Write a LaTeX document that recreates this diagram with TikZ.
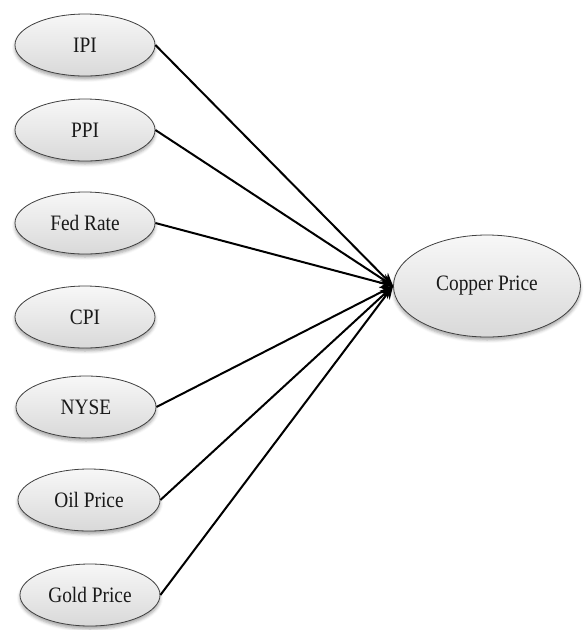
\documentclass[tikz,border=0pt]{standalone}
\usepackage{fontspec}
\setmainfont{Liberation Serif}
\usetikzlibrary{shapes.geometric,arrows.meta,shadows.blur}

% slightly condensed label text
\newcommand\narrowlbl[1]{\scalebox{0.88}[1]{#1}}

\tikzset{
  factor/.style={
    ellipse, draw=black!75, line width=0.8pt,
    top color=gray!6, bottom color=gray!30,
    blur shadow={shadow xshift=0pt, shadow yshift=-3pt, shadow blur radius=3pt, shadow opacity=35},
    minimum width=140pt, minimum height=62pt, inner sep=0pt,
    font=\fontsize{22}{24}\selectfont, text=black!90
  },
  target/.style={factor, minimum width=187pt, minimum height=102pt},
  link/.style={line width=2pt, -{Stealth[length=13pt,width=11pt]}}
}

\begin{document}
\begin{tikzpicture}[x=1pt, y=-1pt]
  \useasboundingbox (0,0) rectangle (585,630);

  % explanatory variables
  \node[factor] (ipi)  at (85,45)  {\narrowlbl{IPI}};
  \node[factor] (ppi)  at (85,130) {\narrowlbl{PPI}};
  \node[factor] (fed)  at (85,223) {\narrowlbl{Fed Rate}};
  \node[factor] (cpi)  at (85,317) {\narrowlbl{CPI}};
  \node[factor] (nyse) at (86,407) {\narrowlbl{NYSE}};
  \node[factor, minimum width=142pt] (oil)  at (89,500) {\narrowlbl{Oil Price}};
  \node[factor] (gold) at (90,595) {\narrowlbl{Gold Price}};

  % response variable
  \node[target] (cp) at (487,286) {\narrowlbl{Copper Price}};

  % influences
  \foreach \src in {ipi,ppi,fed,nyse,oil,gold}
    \draw[link] (\src.east) -- (cp.west);
\end{tikzpicture}
\end{document}
